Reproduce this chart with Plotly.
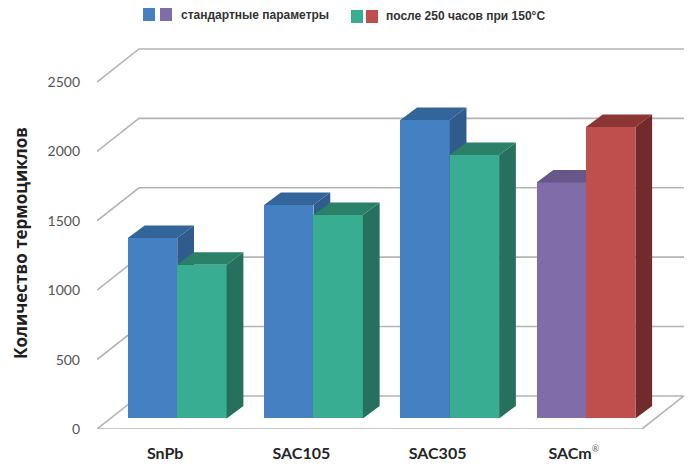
import plotly.graph_objects as go

# Thermal-cycle counts per solder alloy
categories = ["SnPb", "SAC105", "SAC305", "SACm<sup><span style='font-size:9px;font-weight:normal;fill:#666666'>®</span></sup>"]
standard_values = [1300, 1538, 2150, 1700]
aged_values = [1108, 1466, 1898, 2100]
y_ticks = [0, 500, 1000, 1500, 2000, 2500]

# Face colours: front, top, side
standard_front = ["#4480C2", "#4480C2", "#4480C2", "#7F6CA9"]
standard_top = ["#34659A", "#34659A", "#34659A", "#675688"]
standard_side = ["#2F5C8C", "#2F5C8C", "#2F5C8C", "#5C4C7C"]
aged_front = ["#38AD92", "#38AD92", "#38AD92", "#BF4F4C"]
aged_top = ["#2B8068", "#2B8068", "#2B8068", "#8C3535"]
aged_side = ["#26705E", "#26705E", "#26705E", "#722A2B"]

# Oblique projection, in axis units
WALL_DX, WALL_DY = 0.308, 238.0      # floor depth
BAR_DX, BAR_DY = 0.123, 90.0         # bar depth
BAR_WIDTH = 0.3626
GROUP_CENTER = 0.589                 # bar pair centre within a category slot
BAR_BASE = 76.0                      # rise of the bar fronts above the floor edge
X_MAX, Y_MAX = 4.36, 2802.6
GRID = "#B4B4B4"

fig = go.Figure()

# Left wall, back wall and floor
n = len(categories)
for v in y_ticks[1:]:
    fig.add_trace(go.Scatter(
        x=[0, WALL_DX, n + WALL_DX], y=[v, v + WALL_DY, v + WALL_DY],
        mode="lines", line=dict(color=GRID, width=1.6), cliponaxis=False,
        hoverinfo="skip", showlegend=False))
fig.add_trace(go.Scatter(
    x=[n + WALL_DX, WALL_DX, 0, n, n + WALL_DX], y=[WALL_DY, WALL_DY, 0, 0, WALL_DY],
    mode="lines", line=dict(color=GRID, width=1.6), cliponaxis=False,
    hoverinfo="skip", showlegend=False))


def add_series(values, front, top, side, shift, axes):
    """One bar series on its own overlay layer, so later series hide earlier sides."""
    xa, ya = axes
    lefts = [i + GROUP_CENTER + shift for i in range(n)]
    fig.add_trace(go.Bar(
        x=[l + BAR_WIDTH / 2 for l in lefts], y=values, base=BAR_BASE, width=BAR_WIDTH,
        marker=dict(color=front, line=dict(width=0)),
        xaxis=xa, yaxis=ya, showlegend=False))
    for l, v, t, s in zip(lefts, values, top, side):
        r = l + BAR_WIDTH
        h = v + BAR_BASE
        fig.add_trace(go.Scatter(
            x=[r, r + BAR_DX, r + BAR_DX, r, r],
            y=[BAR_BASE, BAR_BASE + BAR_DY, h + BAR_DY, h, BAR_BASE],
            fill="toself", fillcolor=s, mode="none",
            xaxis=xa, yaxis=ya, hoverinfo="skip", showlegend=False))
        fig.add_trace(go.Scatter(
            x=[l, r, r + BAR_DX, l + BAR_DX, l],
            y=[h, h, h + BAR_DY, h + BAR_DY, h],
            fill="toself", fillcolor=t, mode="none",
            xaxis=xa, yaxis=ya, hoverinfo="skip", showlegend=False))


add_series(standard_values, standard_front, standard_top, standard_side, -BAR_WIDTH, ("x2", "y2"))
add_series(aged_values, aged_front, aged_top, aged_side, 0.0, ("x3", "y3"))

W, H = 691, 468


def px_rect(x0, y0, x1, y1, color):
    return dict(type="rect", xref="paper", yref="paper",
                x0=(x0 - 97) / (W - 97), x1=(x1 - 97) / (W - 97),
                y0=(429 - y1) / (429 - 40), y1=(429 - y0) / (429 - 40),
                fillcolor=color, line=dict(width=0))


def px_text(x, y, text, **kw):
    return dict(xref="paper", yref="paper", x=(x - 97) / (W - 97), y=(429 - y) / (429 - 40),
                text=text, showarrow=False, **kw)


legend_font = dict(family="Liberation Sans", size=12, color="#333333")
hidden = dict(range=[0, X_MAX], visible=False, overlaying="x")
hidden_y = dict(range=[0, Y_MAX], visible=False, overlaying="y")

fig.update_layout(
    width=W, height=H,
    margin=dict(l=97, r=0, t=40, b=39, pad=0),
    paper_bgcolor="white", plot_bgcolor="white",
    barmode="overlay", bargap=0, showlegend=False,
    xaxis=dict(range=[0, X_MAX], tickmode="array",
               tickvals=[i + 0.5 for i in range(n)], ticktext=categories,
               showgrid=False, zeroline=False, showline=False, ticks="",
               ticklabelstandoff=13,
               tickfont=dict(family="Lato", size=16, color="#262626", weight="bold")),
    yaxis=dict(range=[0, Y_MAX], tickmode="array", tickvals=y_ticks,
               showgrid=False, zeroline=False, showline=False, ticks="",
               ticklabelstandoff=16,
               tickfont=dict(family="Lato", size=14, color="#555555")),
    xaxis2=hidden, yaxis2=hidden_y, xaxis3=hidden, yaxis3=hidden_y,
    shapes=[
        px_rect(143, 8, 155, 21, "#4480C2"),
        px_rect(160, 8, 172, 21, "#7F6CA9"),
        px_rect(351, 10, 363, 23, "#38AD92"),
        px_rect(366, 10, 378, 23, "#BF4F4C"),
    ],
    annotations=[
        px_text(179, 15, "<b>стандартные параметры</b>", xanchor="left", yanchor="middle", font=legend_font),
        px_text(384, 16, "<b>после 250 часов при 150°C</b>", xanchor="left", yanchor="middle", font=legend_font),
        px_text(21, 243, "<b>Количество термоциклов</b>", textangle=-90, xanchor="center", yanchor="middle",
                font=dict(family="Open Sans", size=17, color="#1F1F1F")),
    ],
)

fig.write_html("out.html")
